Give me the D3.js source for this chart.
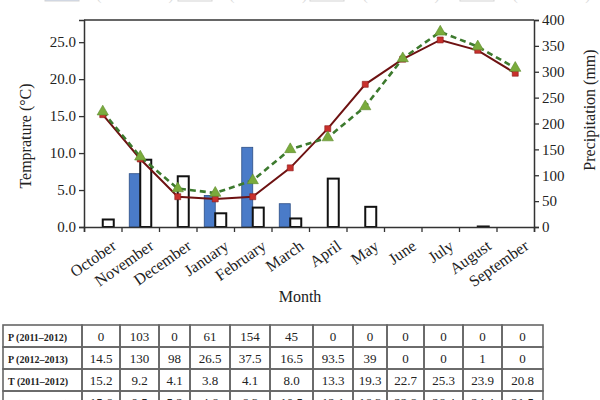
<!DOCTYPE html>
<html><head><meta charset="utf-8">
<script src="https://cdn.jsdelivr.net/npm/d3@7"></script>
<style>html,body{margin:0;padding:0;background:#fff;} svg{display:block;}</style>
</head><body>
<svg id="c" width="600" height="400"></svg>
<script>
const months = ["October","November","December","January","February","March","April","May","June","July","August","September"];
const p1 = [0,103,0,61,154,45,0,0,0,0,0,0];
const p2 = [14.5,130,98,26.5,37.5,16.5,93.5,39,0,0,1,0];
const t1 = [15.2,9.2,4.1,3.8,4.1,8.0,13.3,19.3,22.7,25.3,23.9,20.8];
const t2 = [15.6,9.5,5.2,4.6,6.3,10.5,12.1,16.3,22.8,26.4,24.4,21.5];
const tempTicks = [0,5,10,15,20,25];
const precipTicks = [0,50,100,150,200,250,300,350,400];
const rowLabels = ["P (2011–2012)","P (2012–2013)","T (2011–2012)","T (2012–2013)"];

const svg = d3.select("#c");
const serif = "'Liberation Serif','DejaVu Serif',serif";
const L = 84, R = 534, T = 20, B = 227;

const x = d3.scaleBand().domain(months).range([L, R]);
const yT = d3.scaleLinear().domain([0, 28]).range([B, T]);
const yP = d3.scaleLinear().domain([0, 400]).range([B, T]);

// faint clipped legend at top
const leg = svg.append("g").attr("opacity", 0.25);
const legX = [45, 178, 310, 460];
rowLabels.forEach((t, i) => {
  leg.append("rect").attr("x", legX[i]).attr("y", -8).attr("width", 34).attr("height", 9)
    .attr("fill", i === 0 ? "#4677c8" : "#fff").attr("stroke", "#555");
  leg.append("text").attr("x", legX[i] + 40).attr("y", 0).attr("font-family", serif)
    .attr("font-size", 15).attr("fill", "#777").text(t);
});

// bars
const bw = 11;
svg.append("g").selectAll("rect").data(months).join("rect")
  .attr("x", d => x(d) + x.bandwidth()/2 - bw)
  .attr("y", (d,i) => yP(p1[i]))
  .attr("width", bw)
  .attr("height", (d,i) => B - yP(p1[i]))
  .attr("fill", "#4a7bc8").attr("stroke", "#2d4f86").attr("stroke-width", 0.8)
  .attr("display", (d,i) => p1[i] > 0 ? null : "none");
svg.append("g").selectAll("rect").data(months).join("rect")
  .attr("x", d => x(d) + x.bandwidth()/2)
  .attr("y", (d,i) => yP(p2[i]))
  .attr("width", bw)
  .attr("height", (d,i) => B - yP(p2[i]))
  .attr("fill", "#fff").attr("stroke", "#111").attr("stroke-width", 2)
  .attr("display", (d,i) => p2[i] > 0 ? null : "none");

// lines
const cx = d => x(d) + x.bandwidth()/2;
const line1 = d3.line().x((d,i) => cx(months[i])).y(d => yT(d));
svg.append("path").datum(t1).attr("d", line1).attr("fill", "none")
  .attr("stroke", "#6e1212").attr("stroke-width", 2);
svg.append("path").datum(t2).attr("d", line1).attr("fill", "none")
  .attr("stroke", "#3d7a2e").attr("stroke-width", 2.6).attr("stroke-dasharray", "6,4");
svg.append("g").selectAll("path").data(t1).join("path")
  .attr("d", d3.symbol(d3.symbolSquare, 36))
  .attr("transform", (d,i) => `translate(${cx(months[i])},${yT(d)})`)
  .attr("fill", "#c8302c").attr("stroke", "#8a1a1a").attr("stroke-width", 0.6);
svg.append("g").selectAll("path").data(t2).join("path")
  .attr("d", d3.symbol(d3.symbolTriangle, 55))
  .attr("transform", (d,i) => `translate(${cx(months[i])},${yT(d)})`)
  .attr("fill", "#7aab3c").attr("stroke", "#5d8a2c").attr("stroke-width", 0.6);

// frame top
svg.append("line").attr("x1", L).attr("x2", R).attr("y1", T).attr("y2", T)
  .attr("stroke", "#333").attr("stroke-width", 1.5);

function styleAxis(g) {
  g.selectAll(".domain").attr("stroke", "#333").attr("stroke-width", 1.5);
  g.selectAll(".tick line").attr("stroke", "#333").attr("stroke-width", 1.3);
  g.selectAll("text").attr("font-family", serif).attr("fill", "#222");
}

const gl = svg.append("g").attr("transform", `translate(${L},0)`)
  .call(d3.axisLeft(yT).tickValues(tempTicks).tickFormat(d3.format(".1f")).tickSizeOuter(0).tickSize(5).tickPadding(3));
styleAxis(gl); gl.selectAll("text").attr("font-size", 15);

const gr = svg.append("g").attr("transform", `translate(${R},0)`)
  .call(d3.axisRight(yP).tickValues(precipTicks).tickSizeOuter(0).tickSize(5).tickPadding(3));
styleAxis(gr); gr.selectAll("text").attr("font-size", 15);

// bottom axis with ticks at band edges
const xEdge = d3.scaleLinear().domain([0, 12]).range([L, R]);
const gb = svg.append("g").attr("transform", `translate(0,${B})`)
  .call(d3.axisBottom(xEdge).tickValues(d3.range(13)).tickFormat("").tickSizeOuter(0).tickSize(5));
styleAxis(gb);

svg.append("g").selectAll("text").data(months).join("text")
  .attr("transform", d => `translate(${cx(d) + 8},${B + 12}) rotate(-35)`)
  .attr("text-anchor", "end").attr("dy", "0.71em")
  .attr("font-family", serif).attr("font-size", 16).attr("fill", "#222")
  .text(d => d);

svg.append("text").attr("transform", "translate(31,136) rotate(-90)")
  .attr("text-anchor", "middle").attr("font-family", serif).attr("font-size", 16).attr("fill", "#222")
  .text("Temprature (°C)");
svg.append("text").attr("transform", "translate(595,110) rotate(-90)")
  .attr("text-anchor", "middle").attr("font-family", serif).attr("font-size", 16).attr("fill", "#222")
  .text("Precipitation (mm)");
svg.append("text").attr("x", 300).attr("y", 302)
  .attr("text-anchor", "middle").attr("font-family", serif).attr("font-size", 16).attr("fill", "#222")
  .text("Month");

// table
const colEdges = [3, 82, 120, 159, 190, 230, 270, 313, 353, 387, 424, 463, 502, 543];
const rowTop = 325, rowH = 22;
const rows = [p1.map(String), p2.map(String), t1.map(d => d.toFixed(1)), t2.map(d => d.toFixed(1))];
const tg = svg.append("g");
rows.forEach((r, ri) => {
  const y0 = rowTop + ri * rowH;
  const cells = [rowLabels[ri]].concat(r);
  cells.forEach((c, ci) => {
    tg.append("rect").attr("x", colEdges[ci]).attr("y", y0)
      .attr("width", colEdges[ci+1] - colEdges[ci]).attr("height", rowH)
      .attr("fill", "none").attr("stroke", "#666").attr("stroke-width", 1.6);
    tg.append("text")
      .attr("x", ci === 0 ? colEdges[0] + 5 : (colEdges[ci] + colEdges[ci+1]) / 2)
      .attr("y", y0 + rowH/2 + 4.5)
      .attr("text-anchor", ci === 0 ? "start" : "middle")
      .attr("font-family", serif)
      .attr("font-size", ci === 0 ? 10 : 13)
      .attr("font-weight", ci === 0 ? "bold" : "normal")
      .attr("fill", "#222").text(c);
  });
});
</script>
</body></html>
